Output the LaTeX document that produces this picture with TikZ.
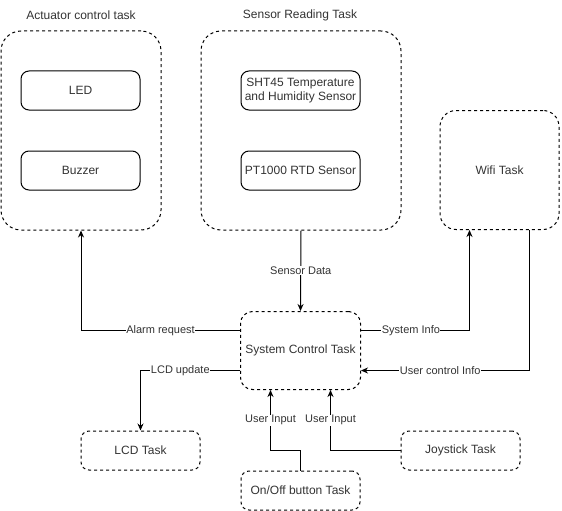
\documentclass[tikz,border=0pt]{standalone}
\usepackage{fontspec}
\setmainfont{Liberation Sans}
\usetikzlibrary{positioning,arrows.meta}

\begin{document}
\begin{tikzpicture}[x=1pt,y=-1pt,line width=1pt,
  task/.style={draw,dash pattern=on 3pt off 3pt,rounded corners=20pt,text=black!80,font=\fontsize{12}{14}\selectfont},
  unit/.style={draw,rounded corners=8pt,minimum width=119pt,minimum height=39pt,align=center,inner sep=1pt,text=black!80,font=\fontsize{12}{14}\selectfont},
  box/.style={task,rounded corners=8pt,minimum width=119pt,minimum height=39pt},
  ttl/.style={text=black!80,font=\fontsize{12}{14}\selectfont},
  lbl/.style={fill=white,inner sep=0.5pt,text=black!80,font=\fontsize{11}{13}\selectfont},
  link/.style={-{Stealth[length=7pt,width=6pt]}}]
\useasboundingbox (0,0) rectangle (562,511);

% task groups
\node (act) [task,minimum width=160pt,minimum height=199pt] at (81,130.5) {};
\node (sen) [task,minimum width=200pt,minimum height=199pt] at (301,130.5) {};
\node (wifi) [task,rounded corners=16pt,minimum width=119pt,minimum height=119pt] at (499.5,170) {Wifi Task};
\node [ttl] at (81,15) {Actuator control task};
\node [ttl] at (300,15) {Sensor Reading Task};

\node (led) [unit] at (80.5,90.5) {LED};
\node (buz) [unit] at (80.5,170.5) {Buzzer};
\node (sht) [unit] at (300.5,90.5) {SHT45 Temperature\\and Humidity Sensor};
\node (pt) [unit] at (300.5,170.5) {PT1000 RTD Sensor};

\node (sys) [task,rounded corners=12pt,minimum width=120pt,minimum height=78pt] at (300.5,350.5) {System Control Task};
\node (lcd) [box] at (140.5,450.5) {LCD Task};
\node (onoff) [box] at (300.5,490.5) {On/Off button Task};
\node (joy) [box] at (460.5,450.5) {Joystick Task};

% connectors
\draw[link] (sen.south) -- node[lbl] {Sensor Data} (sys.north);
\draw[link] ([yshift=20pt]sys.west) -| node[lbl,pos=0.25] {Alarm request} (act.south);
\draw[link] ([yshift=-20pt]sys.west) -| node[lbl,pos=0.3] {LCD update} (lcd.north);
\draw[link] ([yshift=20pt]sys.east) -| node[lbl,pos=0.23] {System Info} ([xshift=-30pt]wifi.south);
\draw[link] ([xshift=30pt]wifi.south) |- node[lbl,pos=0.765] {User control Info} ([yshift=-20pt]sys.east);
\draw[link] (onoff.north) -- ++(0,-20) -| node[lbl,pos=0.75] {User Input} ([xshift=-30pt]sys.south);
\draw[link] (joy.west) -| node[lbl,pos=0.75] {User Input} ([xshift=30pt]sys.south);
\end{tikzpicture}
\end{document}
